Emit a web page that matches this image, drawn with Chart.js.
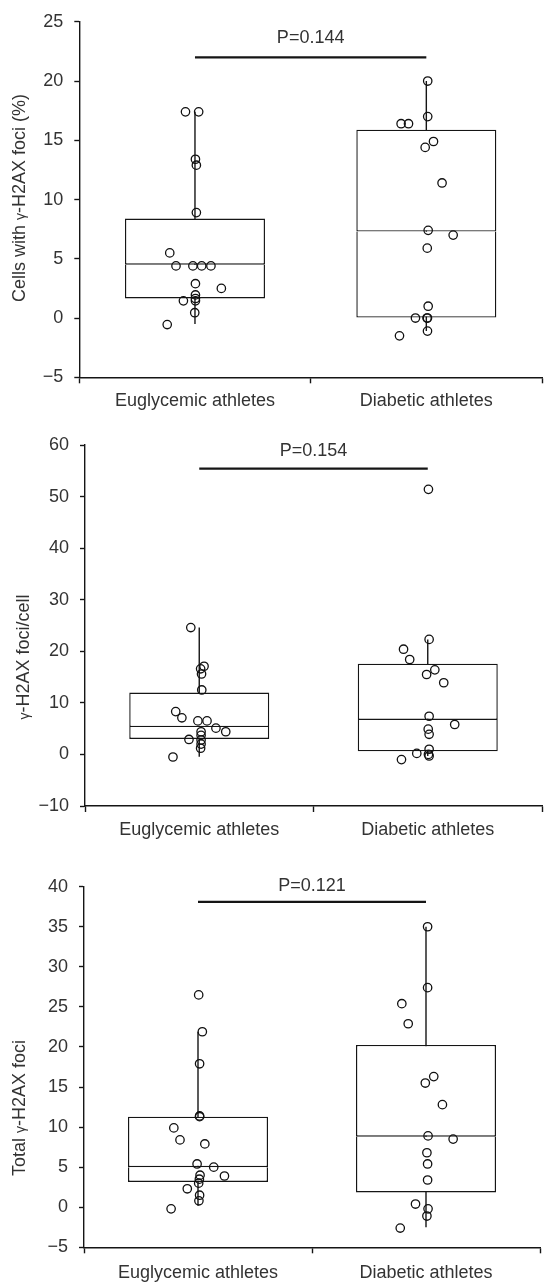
<!DOCTYPE html>
<html>
<head>
<meta charset="utf-8">
<script src="https://cdn.jsdelivr.net/npm/chart.js@4.4.1/dist/chart.umd.min.js"></script>
<style>
  html, body { margin: 0; padding: 0; background: #fff; }
  canvas { display: block; }
</style>
</head>
<body>
<canvas id="c1" width="549" height="420"></canvas>
<canvas id="c2" width="549" height="420"></canvas>
<canvas id="c3" width="549" height="444"></canvas>
<script>
const groups = ['Euglycemic athletes', 'Diabetic athletes'];

// Panel 1 - cells with foci (%)
const pctTicks = [-5, 0, 5, 10, 15, 20, 25];
const pctEu = [17.4, 17.4, 13.4, 12.9, 8.9, 5.5, 4.4, 4.4, 4.4, 4.4, 2.9, 2.5, 1.95, 1.65, 1.45, 1.45, 0.45, -0.55];
const pctEuJit = [-0.041, 0.016, 0.002, 0.006, 0.006, -0.109, -0.082, -0.009, 0.029, 0.069, 0.002, 0.114, 0.002, 0.002, -0.05, 0.002, -0.001, -0.12];
const pctDi = [20, 17, 16.4, 16.4, 14.9, 14.4, 11.4, 7.4, 7.0, 5.9, 1.0, 0, 0, 0, -1.1, -1.5];
const pctDiJit = [0.006, 0.006, -0.109, -0.077, 0.031, -0.005, 0.068, 0.008, 0.116, 0.004, 0.008, -0.047, 0.005, 0.003, 0.005, -0.116];
// whisker low, q1, median, q3, whisker high
const pctEuBox = [-0.5, 1.65, 4.5, 8.4, 17.4];
const pctDiBox = [-1.1, 0, 7.3, 15.9, 20];
const pctP = 'P=0.144';
const pctPLine = 22;
const pctPText = 23.6;
const pctTitle = ['Cells with ', '\u03b3', '-H2AX foci (%)'];

// Panel 2 - foci per cell
const perTicks = [-10, 0, 10, 20, 30, 40, 50, 60];
const perEu = [24.6, 17.1, 16.6, 15.6, 12.5, 8.3, 7.1, 6.5, 6.5, 5.1, 4.4, 4.4, 3.7, 2.9, 2.8, 2.0, 1.2, -0.5];
const perEuJit = [-0.037, 0.021, 0.006, 0.01, 0.011, -0.103, -0.076, -0.006, 0.034, 0.073, 0.116, 0.008, 0.008, -0.045, 0.008, 0.008, 0.006, -0.115];
const perDi = [51.4, 22.3, 20.4, 18.4, 16.4, 15.5, 13.9, 7.4, 5.8, 4.9, 3.9, 1.0, 0.2, 0.0, -0.3, -1.0];
const perDiJit = [0.003, 0.006, -0.106, -0.079, 0.031, -0.005, 0.07, 0.006, 0.118, 0.002, 0.006, 0.006, -0.048, 0.003, 0.006, -0.115];
const perEuBox = [-0.45, 3.0, 5.3, 12.0, 24.6];
const perDiBox = [-0.3, 0.6, 6.7, 17.6, 22.3];
const perP = 'P=0.154';
const perPLine = 55.4;
const perPText = 58.8;
const perTitle = ['', '\u03b3', '-H2AX foci/cell'];

// Panel 3 - total foci
const totTicks = [-5, 0, 5, 10, 15, 20, 25, 30, 35, 40];
const totEu = [26.5, 21.9, 17.9, 11.4, 11.3, 9.9, 8.4, 7.9, 5.4, 5.0, 4.0, 3.9, 3.5, 3.0, 2.3, 1.5, 0.8, -0.2];
const totEuJit = [0.003, 0.019, 0.007, 0.007, 0.007, -0.106, -0.079, 0.03, -0.004, 0.069, 0.009, 0.116, 0.006, 0.003, -0.047, 0.007, 0.004, -0.118];
const totDi = [35, 27.4, 25.4, 22.9, 16.3, 15.5, 12.8, 8.9, 8.5, 6.8, 5.4, 3.4, 0.4, -0.2, -1.1, -2.6];
const totDiJit = [0.007, 0.007, -0.106, -0.078, 0.034, -0.003, 0.072, 0.009, 0.119, 0.004, 0.007, 0.007, -0.046, 0.009, 0.004, -0.113];
const totEuBox = [0.2, 3.15, 5.0, 11.3, 21.9];
const totDiBox = [-2.5, 1.85, 8.8, 20.25, 35];
const totP = 'P=0.121';
const totPLine = 38.1;
const totPText = 40.1;
const totTitle = ['Total ', '\u03b3', '-H2AX foci'];

const ink = '#151515';
const textCol = '#333';
const family = "'Liberation Sans', Arial, Helvetica, sans-serif";
const font = { family: family, size: 18 };

// rotated y title, gamma a bit smaller like the original
const yTitle = {
  id: 'yTitle',
  afterDraw(chart, args, opts) {
    const ctx = chart.ctx;
    const sizes = [18, 14, 18];
    ctx.save();
    ctx.translate(opts.x, opts.y);
    ctx.rotate(-Math.PI / 2);
    ctx.fillStyle = textCol;
    ctx.textBaseline = 'alphabetic';
    ctx.textAlign = 'left';
    let total = 0;
    opts.parts.forEach((p, i) => { ctx.font = sizes[i] + 'px ' + family; total += ctx.measureText(p).width; });
    let x = -total / 2;
    opts.parts.forEach((p, i) => {
      ctx.font = sizes[i] + 'px ' + family;
      ctx.fillText(p, x, 6);
      x += ctx.measureText(p).width;
    });
    ctx.restore();
  }
};

const pLabel = {
  id: 'pLabel',
  afterDatasetsDraw(chart, args, opts) {
    const { ctx, scales: { x, y } } = chart;
    ctx.save();
    ctx.font = '18px ' + family;
    ctx.fillStyle = textCol;
    ctx.textAlign = 'center';
    ctx.textBaseline = 'middle';
    ctx.fillText(opts.text, x.getPixelForValue(0.5), y.getPixelForValue(opts.y));
    ctx.restore();
  }
};

function points(vals, jit, cat) {
  return vals.map((v, i) => ({ x: cat + jit[i], y: v }));
}

function panel(id, o) {
  const boxes = [o.boxEu, o.boxDi];
  const boxStyle = {
    type: 'bar', backgroundColor: '#fff', borderColor: ink, barThickness: 140,
    borderSkipped: false, grouped: false, inflateAmount: 0, order: 2
  };
  new Chart(document.getElementById(id), {
    type: 'scatter',
    data: {
      datasets: [
        {
          type: 'scatter',
          data: points(o.eu, o.euJit, 0).concat(points(o.di, o.diJit, 1)),
          pointRadius: 4.2, borderWidth: 1.3, borderColor: '#111',
          backgroundColor: 'rgba(0,0,0,0)', order: 0
        },
        {
          type: 'line',
          data: [{ x: 0, y: o.pLine }, { x: 1, y: o.pLine }],
          borderColor: ink, borderWidth: 2.2, pointRadius: 0, order: 1
        },
        // lower half of the box (q1 - median)
        Object.assign({}, boxStyle, {
          data: boxes.map((b, i) => ({ x: i, y: [b[1], b[2]] })),
          borderWidth: { top: 0, bottom: 1.4, left: 1.4, right: 1.4 }
        }),
        // upper half (median - q3), its bottom edge is the median line
        Object.assign({}, boxStyle, {
          data: boxes.map((b, i) => ({ x: i, y: [b[2], b[3]] })),
          borderWidth: { top: 1.4, bottom: 1.4, left: 1.4, right: 1.4 }
        }),
        {
          type: 'bar',
          data: boxes.map((b, i) => ({ x: i, y: [b[0], b[4]] })),
          backgroundColor: ink, borderWidth: 0, barThickness: 1.4,
          grouped: false, inflateAmount: 0, order: 3
        }
      ]
    },
    options: {
      responsive: false,
      animation: false,
      devicePixelRatio: 1,
      layout: { padding: o.pad },
      plugins: {
        legend: { display: false },
        tooltip: { enabled: false },
        yTitle: { parts: o.title, x: o.titleX, y: o.titleY },
        pLabel: { text: o.pText, y: o.pTextY }
      },
      scales: {
        x: {
          type: 'linear', min: -0.5, max: 1.5, offset: false,
          afterBuildTicks: s => { s.ticks = [-0.5, 0, 0.5, 1, 1.5].map(v => ({ value: v })); },
          afterFit: s => { s.height = o.xH; },
          grid: {
            drawOnChartArea: false, offset: false, tickLength: 6, tickWidth: 1.4,
            tickColor: c => (c.tick && Number.isInteger(c.tick.value)) ? 'rgba(0,0,0,0)' : ink
          },
          border: { color: ink, width: 1.4 },
          ticks: {
            autoSkip: false, maxRotation: 0, padding: o.xPad, color: textCol, font,
            callback: v => v === 0 ? groups[0] : (v === 1 ? groups[1] : '')
          }
        },
        y: {
          min: o.ticks[0], max: o.ticks[o.ticks.length - 1],
          afterBuildTicks: s => { s.ticks = o.ticks.map(v => ({ value: v })); },
          afterFit: s => { s.width = o.left; },
          grid: { drawOnChartArea: false, tickLength: 5, tickWidth: 1.4, tickColor: ink },
          border: { color: ink, width: 1.4 },
          ticks: {
            padding: 11, color: textCol, font,
            callback: v => v < 0 ? '\u2212' + Math.abs(v) : String(v)
          }
        }
      }
    },
    plugins: [yTitle, pLabel]
  });
}

panel('c1', {
  ticks: pctTicks, eu: pctEu, euJit: pctEuJit, di: pctDi, diJit: pctDiJit,
  boxEu: pctEuBox, boxDi: pctDiBox, pText: pctP, pLine: pctPLine, pTextY: pctPText,
  title: pctTitle, titleX: 19, titleY: 198,
  left: 79.3, xH: 42.7, xPad: 7, pad: { left: 0, right: 1, top: 18.3, bottom: 0 }
});
panel('c2', {
  ticks: perTicks, eu: perEu, euJit: perEuJit, di: perDi, diJit: perDiJit,
  boxEu: perEuBox, boxDi: perDiBox, pText: perP, pLine: perPLine, pTextY: perPText,
  title: perTitle, titleX: 23, titleY: 237,
  left: 85, xH: 34, xPad: 7, pad: { left: 0, right: 2, top: 25, bottom: 0 }
});
panel('c3', {
  ticks: totTicks, eu: totEu, euJit: totEuJit, di: totDi, diJit: totDiJit,
  boxEu: totEuBox, boxDi: totDiBox, pText: totP, pLine: totPLine, pTextY: totPText,
  title: totTitle, titleX: 19, titleY: 268,
  left: 84, xH: 36.7, xPad: 9, pad: { left: 0, right: 1, top: 46.7, bottom: 0 }
});
</script>
</body>
</html>
